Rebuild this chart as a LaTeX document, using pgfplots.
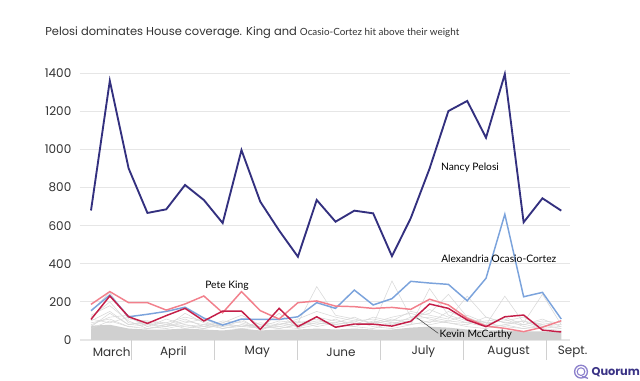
\documentclass[border=0pt]{standalone}
\usepackage{pgfplots}
\pgfplotsset{compat=1.18}
\usepackage{fontspec}
\setmainfont{Lato}
\newfontfamily\pop{Poppins}
\definecolor{pelosi}{HTML}{33307F}
\definecolor{aoc}{HTML}{7BA3DC}
\definecolor{king}{HTML}{F2808C}
\definecolor{mccarthy}{HTML}{C41E48}
\definecolor{bggray}{HTML}{D0D0D0}
\definecolor{lgray}{HTML}{D8D8D8}
\definecolor{gridc}{HTML}{E6E6E6}
\definecolor{sepc}{HTML}{D0D0D0}
\definecolor{txt}{HTML}{333333}
\definecolor{quorum}{HTML}{3B3486}
\definecolor{qicon}{HTML}{8C80CC}
\begin{document}
\begin{tikzpicture}
\useasboundingbox (0,0) rectangle (480pt,285.75pt);
\fill[white] (0,0) rectangle (480pt,285.75pt);
\node[anchor=base west, inner sep=0, text=txt] at (33.75pt,258.75pt)
  {{\pop\fontsize{8.6}{10}\selectfont Pelosi dominates House coverage. King and }{\fontsize{7.4}{9}\selectfont Ocasio-Cortez hit above their weight}};
\begin{axis}[
  at={(60pt,30.75pt)}, anchor=south west,
  scale only axis, width=367.5pt, height=200pt,
  xmin=-0.585, xmax=25.465, ymin=0, ymax=1400,
  clip=false,
  axis line style={draw=none},
  tick style={draw=none},
  xtick=\empty,
  ytick={0,200,...,1400},
  ymajorgrids, grid style={gridc, line width=0.8pt},
  /pgf/number format/assume math mode=true,
  /pgf/number format/1000 sep={},
  yticklabel style={font=\pop\fontsize{9}{10}\selectfont, text=txt, xshift=-3pt},
]
% dense gray band
\addplot[draw=none, fill=bggray] coordinates {
(0,75)(1,80)(2,60)(3,55)(4,55)(5,60)(6,55)(7,50)(8,60)(9,50)(10,55)(11,55)(12,60)(13,55)(14,60)(15,55)(16,55)(17,65)(18,70)(19,65)(20,55)(21,50)(22,50)(23,45)(24,45)(25,40)
} \closedcycle;
% gray background lines
\addplot[lgray, line width=0.4pt] coordinates {
(0,120)(1,200)(2,90)(3,80)(4,70)(5,140)(6,90)(7,70)(8,100)(9,60)(10,70)(11,90)(12,280)(13,130)(14,110)(15,90)(16,100)(17,110)(18,120)(19,100)(20,90)(21,70)(22,80)(23,60)(24,70)(25,60)};
\addplot[lgray, line width=0.4pt] coordinates {
(0,150)(1,250)(2,110)(3,100)(4,90)(5,120)(6,100)(7,60)(8,80)(9,60)(10,140)(11,60)(12,120)(13,100)(14,90)(15,80)(16,310)(17,120)(18,140)(19,240)(20,120)(21,80)(22,230)(23,90)(24,240)(25,80)};
\addplot[lgray, line width=0.4pt] coordinates {
(0,90)(1,110)(2,70)(3,60)(4,80)(5,70)(6,60)(7,80)(8,110)(9,50)(10,90)(11,70)(12,90)(13,80)(14,70)(15,60)(16,90)(17,80)(18,270)(19,130)(20,100)(21,80)(22,120)(23,80)(24,110)(25,70)};
\addplot[lgray, line width=0.4pt] coordinates {
(0,100)(1,150)(2,80)(3,90)(4,70)(5,100)(6,80)(7,90)(8,70)(9,80)(10,60)(11,80)(12,100)(13,90)(14,80)(15,120)(16,100)(17,150)(18,130)(19,110)(20,230)(21,120)(22,90)(23,100)(24,60)(25,50)};
\addplot[lgray, line width=0.4pt] coordinates {
(0,80)(1,120)(2,130)(3,70)(4,60)(5,80)(6,70)(7,100)(8,90)(9,60)(10,80)(11,110)(12,150)(13,120)(14,100)(15,110)(16,90)(17,100)(18,160)(19,120)(20,90)(21,100)(22,110)(23,70)(24,90)(25,80)};
\addplot[lgray, line width=0.4pt] coordinates {
(0,130)(1,180)(2,100)(3,60)(4,70)(5,90)(6,110)(7,70)(8,60)(9,70)(10,100)(11,90)(12,110)(13,70)(14,80)(15,90)(16,120)(17,140)(18,110)(19,90)(20,80)(21,120)(22,90)(23,80)(24,100)(25,90)};
\addplot[lgray, line width=0.4pt] coordinates {
(0,60)(1,100)(2,70)(3,80)(4,90)(5,60)(6,80)(7,60)(8,80)(9,70)(10,60)(11,80)(12,90)(13,80)(14,100)(15,70)(16,60)(17,80)(18,100)(19,90)(20,70)(21,60)(22,80)(23,100)(24,80)(25,70)};
\addplot[lgray, line width=0.4pt] coordinates {
(0,110)(1,90)(2,120)(3,70)(4,110)(5,80)(6,60)(7,90)(8,130)(9,80)(10,70)(11,60)(12,80)(13,110)(14,70)(15,100)(16,80)(17,120)(18,90)(19,150)(20,110)(21,90)(22,70)(23,60)(24,80)(25,60)};
\addplot[lgray, line width=0.4pt] coordinates {
(0,70)(1,140)(2,80)(3,100)(4,80)(5,110)(6,70)(7,80)(8,70)(9,90)(10,80)(11,100)(12,70)(13,90)(14,120)(15,80)(16,110)(17,90)(18,80)(19,100)(20,130)(21,90)(22,100)(23,120)(24,70)(25,100)};
% Ocasio-Cortez
\addplot[aoc, line width=1.1pt] coordinates {
(0,154)(1,236)(2,122)(3,135)(4,150)(5,172)(6,115)(7,78)(8,110)(9,108)(10,108)(11,122)(12,196)(13,166)(14,262)(15,184)(16,217)(17,308)(18,299)(19,292)(20,206)(21,324)(22,660)(23,227)(24,250)(25,110)};
% Pete King
\addplot[king, line width=1.1pt] coordinates {
(0,187)(1,254)(2,196)(3,196)(4,157)(5,189)(6,231)(7,143)(8,254)(9,154)(10,110)(11,196)(12,205)(13,178)(14,175)(15,166)(16,171)(17,161)(18,214)(19,184)(20,114)(21,73)(22,61)(23,44)(24,67)(25,101)};
% Kevin McCarthy
\addplot[mccarthy, line width=1.1pt] coordinates {
(0,108)(1,231)(2,122)(3,87)(4,128)(5,166)(6,100)(7,152)(8,152)(9,56)(10,166)(11,70)(12,122)(13,67)(14,84)(15,83)(16,73)(17,98)(18,189)(19,166)(20,105)(21,70)(22,122)(23,131)(24,52)(25,42)};
% Nancy Pelosi
\addplot[pelosi, line width=1.4pt] coordinates {
(0,680)(1,1361)(2,901)(3,667)(4,686)(5,814)(6,735)(7,614)(8,997)(9,726)(10,575)(11,437)(12,735)(13,621)(14,679)(15,665)(16,440)(17,640)(18,900)(19,1202)(20,1255)(21,1062)(22,1396)(23,618)(24,744)(25,679)};
% month separators
\draw[sepc, line width=0.5pt] (axis cs:2.16,0) -- (axis cs:2.16,-105);
\draw[sepc, line width=0.5pt] (axis cs:6.55,0) -- (axis cs:6.55,-105);
\draw[sepc, line width=0.5pt] (axis cs:10.97,0) -- (axis cs:10.97,-105);
\draw[sepc, line width=0.5pt] (axis cs:15.36,0) -- (axis cs:15.36,-105);
\draw[sepc, line width=0.5pt] (axis cs:19.79,0) -- (axis cs:19.79,-105);
\draw[sepc, line width=0.5pt] (axis cs:24.23,0) -- (axis cs:24.23,-105);
% month labels
\node[font=\pop\fontsize{9}{10}\selectfont, text=txt, inner sep=0] at (axis cs:1.1,-63) {March};
\node[font=\pop\fontsize{9}{10}\selectfont, text=txt, inner sep=0] at (axis cs:4.38,-63) {April};
\node[font=\pop\fontsize{9}{10}\selectfont, text=txt, inner sep=0] at (axis cs:8.84,-63) {May};
\node[font=\pop\fontsize{9}{10}\selectfont, text=txt, inner sep=0] at (axis cs:13.29,-63) {June};
\node[font=\pop\fontsize{9}{10}\selectfont, text=txt, inner sep=0] at (axis cs:17.67,-63) {July};
\node[font=\pop\fontsize{9}{10}\selectfont, text=txt, inner sep=0] at (axis cs:22.2,-63) {August};
\node[font=\pop\fontsize{9}{10}\selectfont, text=txt, inner sep=0] at (axis cs:25.6,-63) {Sept.};
% annotations
\node[font=\fontsize{7.7}{9}\selectfont, text=black, inner sep=0] at (axis cs:20.15,906) {Nancy Pelosi};
\node[font=\fontsize{7.7}{9}\selectfont, text=black, inner sep=0] at (axis cs:21.68,424) {Alexandria Ocasio-Cortez};
\node[font=\fontsize{7.7}{9}\selectfont, text=black, inner sep=0] at (axis cs:7.23,285) {Pete King};
\node[font=\fontsize{7.7}{9}\selectfont, text=black, inner sep=0] at (axis cs:20.46,26) {Kevin McCarthy};
\draw[black!75, line width=0.4pt] (axis cs:17.32,117) -- (axis cs:18.46,35);
\end{axis}
% Quorum logo
\draw[qicon, line width=1pt] (435.75pt,7pt) circle (4.8pt);
\draw[qicon, line width=0.8pt] (435.75pt,7pt) circle (2.9pt);
\draw[qicon, line width=1pt] (436.5pt,3.4pt) -- (441pt,2pt);
\node[anchor=west, inner sep=0, text=quorum, font=\pop\bfseries\fontsize{8.5}{10}\selectfont] at (443.5pt,7pt) {Quorum};
\end{tikzpicture}
\end{document}
